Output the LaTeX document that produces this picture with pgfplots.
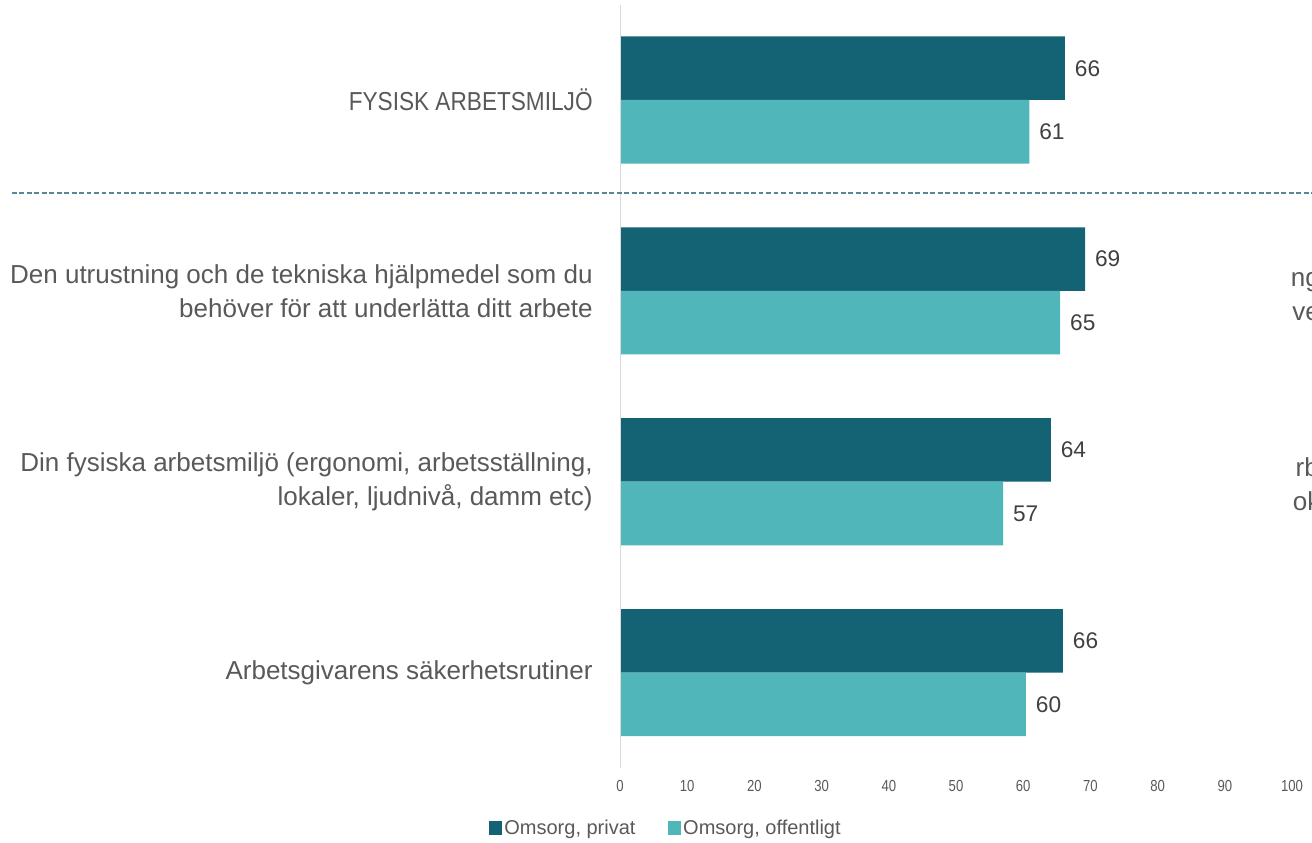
\documentclass[border=0pt]{standalone}
\usepackage{fontspec}
\setmainfont{Liberation Sans}
\newfontfamily\condfont{Liberation Sans}[FakeStretch=0.82]
\newfontfamily\capfont{Liberation Sans}[FakeStretch=0.87]
\usepackage{pgfplots}
\pgfplotsset{compat=1.18}
\definecolor{darkteal}{RGB}{20,99,117}
\definecolor{lightteal}{RGB}{80,182,186}
\definecolor{txtgray}{RGB}{89,89,89}
\definecolor{valgray}{RGB}{64,64,64}
\definecolor{dashc}{RGB}{90,135,150}
\definecolor{axgray}{RGB}{217,217,217}
\pgfplotsset{sqlegend/.style={legend image code/.code={\fill[##1] (0pt,-4.9pt) rectangle (9.75pt,4.9pt);}}}
\begin{document}
\begin{tikzpicture}
\path[use as bounding box] (0,0) rectangle (984pt,-631.5pt);
\begin{axis}[
  at={(465pt,-576pt)}, anchor=south west,
  scale only axis, width=504pt, height=572.6pt,
  xmin=0, xmax=100, ymin=-0.5, ymax=3.5, y dir=reverse,
  xbar, bar width=0.333,
  clip=false,
  axis line style={draw=none}, major tick length=0pt,
  /pgf/number format/assume math mode=true,
  xtick={0,10,...,100},
  xticklabel style={font=\condfont\fontsize{12}{14}\selectfont, text=txtgray, yshift=-5.5pt},
  ytick={0,1,2,3},
  yticklabels={{\capfont FYSISK ARBETSMILJÖ},
    {Den utrustning och de tekniska hjälpmedel som du\\behöver för att underlätta ditt arbete},
    {Din fysiska arbetsmiljö (ergonomi, arbetsställning,\\lokaler, ljudnivå, damm etc)},
    {Arbetsgivarens säkerhetsrutiner}},
  yticklabel style={font=\fontsize{19.5}{25.5}\selectfont, text=txtgray, align=right, xshift=-17pt},
  point meta=explicit symbolic,
  nodes near coords,
  nodes near coords style={font=\fontsize{17}{19}\selectfont, text=valgray, anchor=west, xshift=4pt},
  legend columns=2,
  legend cell align=left,
  legend style={at={(0.0685,-0.0786)}, anchor=center, draw=none, fill=none,
    font=\fontsize{15}{18}\selectfont, text=txtgray,
    /tikz/every even column/.append style={column sep=22pt}},
]
\addplot[fill=darkteal, draw=none, bar shift=-0.1665, sqlegend] coordinates {
  (66.2,0) [66]
  (69.2,1) [69]
  (64.1,2) [64]
  (65.9,3) [66]
};
\addplot[fill=lightteal, draw=none, bar shift=0.1665, sqlegend] coordinates {
  (60.9,0) [61]
  (65.5,1) [65]
  (57.0,2) [57]
  (60.4,3) [60]
};
\legend{{Omsorg, privat},{Omsorg, offentligt}}
\draw[axgray, line width=0.75pt] (axis cs:0,-0.5) -- (axis cs:0,3.5);
\end{axis}
\draw[dashc, line width=1.5pt, dash pattern=on 3.6pt off 2pt] (9pt,-144.75pt) -- (990pt,-144.75pt);
\node[anchor=base west, inner sep=0pt, font=\fontsize{19.5}{22}\selectfont, text=txtgray] at (968pt,-215pt) {ng};
\node[anchor=base west, inner sep=0pt, font=\fontsize{19.5}{22}\selectfont, text=txtgray] at (969pt,-240.5pt) {ve};
\node[anchor=base west, inner sep=0pt, font=\fontsize{19.5}{22}\selectfont, text=txtgray] at (971.5pt,-357pt) {rb};
\node[anchor=base west, inner sep=0pt, font=\fontsize{19.5}{22}\selectfont, text=txtgray] at (969.5pt,-382.5pt) {ok};
\end{tikzpicture}
\end{document}
